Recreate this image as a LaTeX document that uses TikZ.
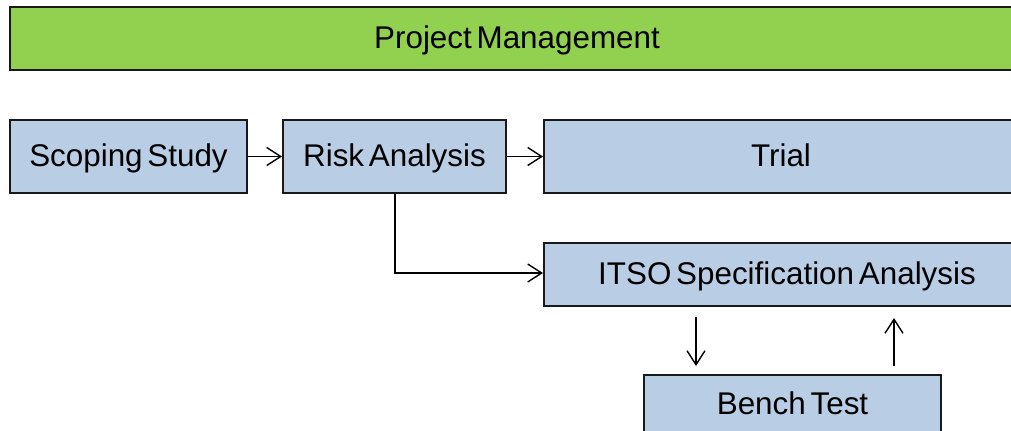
\documentclass[tikz,border=0pt]{standalone}
\usepackage{fontspec}
\setmainfont[WordSpace=0.55]{Liberation Sans}
\usetikzlibrary{arrows.meta}
\definecolor{pmgreen}{HTML}{92D050}
\definecolor{stageblue}{HTML}{B9CDE5}
\tikzset{
  box/.style={draw=black!90, line width=2bp, inner sep=0pt, anchor=north west,
    font=\fontsize{31.5}{36}\selectfont, text height=27bp, text depth=6.6bp},
  pmbox/.style={box, fill=pmgreen},
  stagebox/.style={box, fill=stageblue},
  flow/.style={line width=1.4bp, -{Straight Barb[length=14bp,width=18bp,line width=1.4bp]}}
}
\begin{document}
\begin{tikzpicture}[x=1bp,y=-1bp]
  \useasboundingbox (0,0) rectangle (1011,430);
  \clip (0,0) rectangle (1011,430);
  % overall management band
  \node[pmbox, minimum width=1014bp, minimum height=63bp] (pm) at (9,6) {Project Management};
  % project stages
  \node[stagebox, minimum width=237bp, minimum height=73bp] (scope) at (9,119) {Scoping Study};
  \node[stagebox, minimum width=223bp, minimum height=73bp] (risk) at (282,119) {Risk Analysis};
  \node[stagebox, minimum width=474bp, minimum height=73bp] (trial) at (543,119) {Trial};
  \node[stagebox, minimum width=486bp, minimum height=63bp] (itso) at (543,242) {ITSO Specification Analysis};
  \node[stagebox, minimum width=297bp, minimum height=58bp] (bench) at (643,374) {Bench Test};
  % connectors
  \coordinate (bend) at (395,273);
  \draw[flow] (scope.east) -- (risk.west);
  \draw[flow] (risk.east) -- (trial.west);
  \draw[flow] (risk.south -| bend) -- (bend) -- (bend -| itso.west);
  \coordinate (downtop) at (696,317);
  \coordinate (downbot) at (696,366);
  \coordinate (uptop) at (894,318);
  \coordinate (upbot) at (894,366);
  \draw[flow] (downtop) -- (downbot);
  \draw[flow] (upbot) -- (uptop);
\end{tikzpicture}
\end{document}
